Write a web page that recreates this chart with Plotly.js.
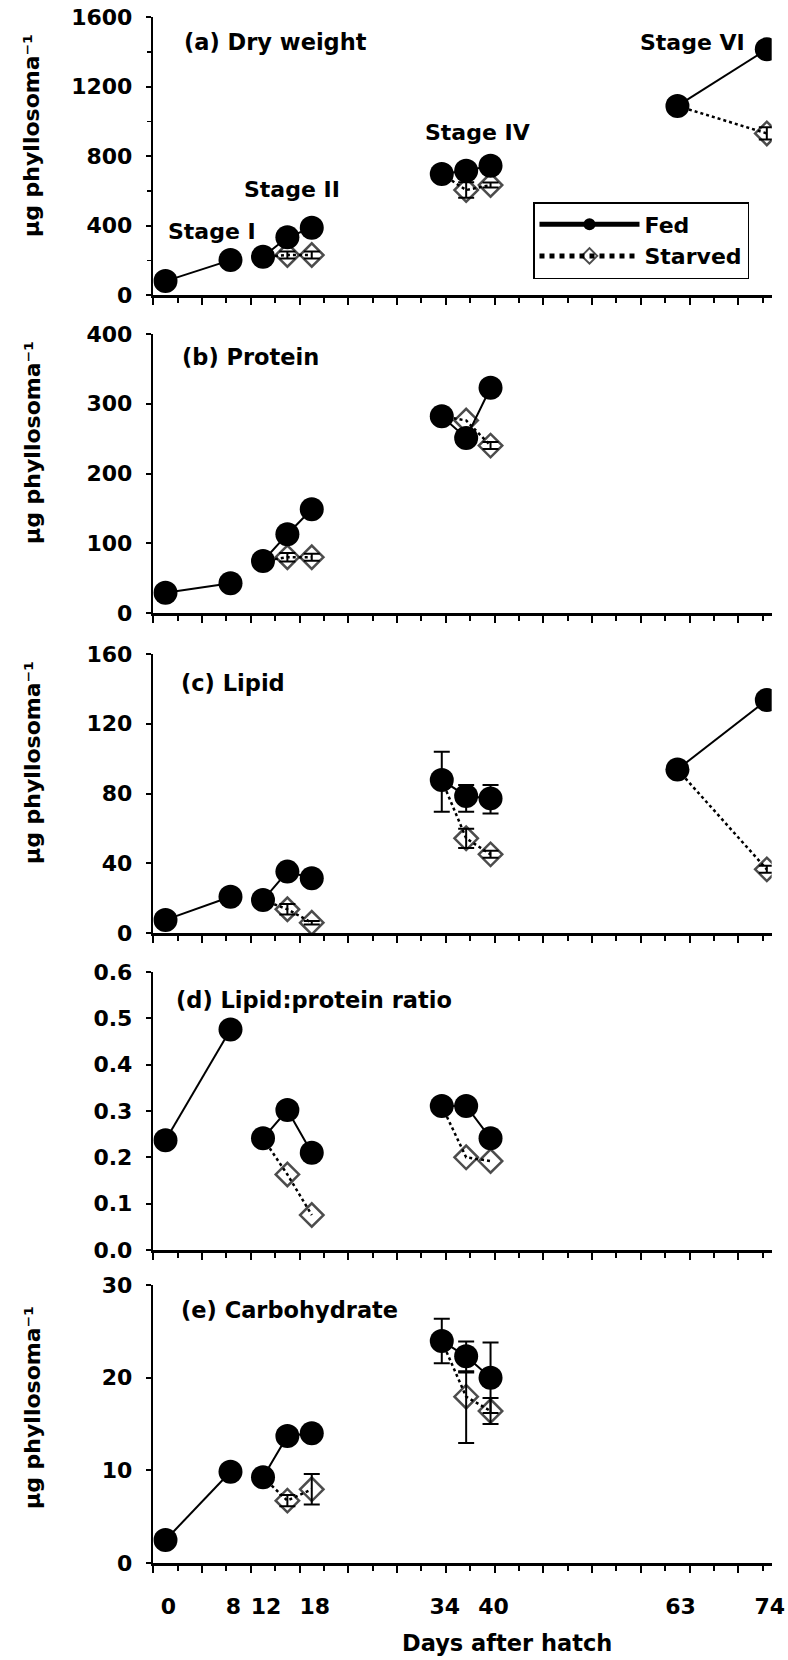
<!DOCTYPE html>
<html><head><meta charset="utf-8">
<script src="https://cdn.plot.ly/plotly-3.0.1.min.js"></script>
<style>html,body{margin:0;padding:0;background:#fff}#chart{width:788px;height:1660px}</style>
</head><body><div id="chart"></div>
<script>
// ---- DATA ----
const days  = [0, 8, 12, 15, 18, 34, 37, 40, 63, 74];
const stage = ['I','I','II','II','II','IV','IV','IV','VI','VI'];
const dayLabels = [0, 8, 12, 18, 34, 40, 63, 74];

// (a) Dry weight
const fedDry       = [80, 201, 220, 332, 387, 696, 715, 744, 1088, 1414];
const fedDryErr    = [null, null, null, null, null, null, null, null, null, null];
const starvedDry   = [null, null, null, 230, 230, null, 604, 633, null, 930];
const starvedDryErr= [null, null, null, 20, 20, null, 45, 15, null, 35];
// (b) Protein
const fedProt       = [29, 42.5, 74.6, 113, 148.7, 282, 251, 323, null, null];
const fedProtErr    = [null, null, null, null, null, null, null, null, null, null];
const starvedProt   = [null, null, null, 80, 80, null, 276, 240, null, null];
const starvedProtErr= [null, null, null, 6, 5, null, null, 5, null, null];
// (c) Lipid
const fedLip        = [7.5, 20.8, 18.9, 35.2, 31.4, 87.7, 78.6, 77.2, 93.8, 133.6];
const fedLipErrP    = [null, null, null, null, null, 16.3, 6.3, 7.7, null, null];
const fedLipErrM    = [null, null, null, null, null, 18.1, 9.0, 8.6, null, null];
const starvedLip    = [null, null, null, 13.6, 5.9, null, 54.3, 45.1, null, 36.5];
const starvedLipErr = [null, null, null, 3, 1, null, 5.5, 2, null, 2];
// (d) Lipid:protein ratio
const fedRatio      = [0.237, 0.476, 0.241, 0.302, 0.210, 0.311, 0.311, 0.241, null, null];
const starvedRatio  = [null, null, null, 0.163, 0.0755, null, 0.200, 0.192, null, null];
// (e) Carbohydrate
const fedCarb       = [2.48, 9.85, 9.25, 13.7, 14.0, 23.96, 22.3, 20.0, null, null];
const fedCarbErr    = [null, null, null, null, null, 2.4, 1.6, 3.8, null, null];
const starvedCarb   = [null, null, null, 6.73, 7.95, null, 17.95, 16.4, null, null];
const starvedCarbErrP = [null, null, null, 0.6, 1.65, null, 2.6, 1.4, null, null];
const starvedCarbErrM = [null, null, null, 0.6, 1.65, null, 5.0, 1.4, null, null];

// ---- helpers ----
const FAM = 'DejaVu Sans';
const fnt = s => ({family: FAM, size: s, color: '#000', weight: 'bold'});
const toNum = v => (v == null ? NaN : v);

// fed: break line between stages
function fedSeries(vals, errP, errM) {
  const X = [], Y = [], EP = [], EM = []; let prev = null;
  days.forEach((d, i) => {
    if (vals[i] == null) return;
    if (prev !== null && stage[i] !== prev) { X.push(null); Y.push(null); EP.push(NaN); EM.push(NaN); }
    X.push(d); Y.push(vals[i]);
    EP.push(toNum(errP ? errP[i] : null)); EM.push(toNum(errM ? errM[i] : (errP ? errP[i] : null)));
    prev = stage[i];
  });
  return {X, Y, EP, EM};
}
// starved: branch from the first fed point of the same stage
function starvedSeries(fedVals, vals, errP, errM) {
  const X = [], Y = [], EP = [], EM = [], S = [];
  const stagesDone = {};
  days.forEach((d, i) => {
    if (vals[i] == null) return;
    const st = stage[i];
    if (!stagesDone[st]) {
      if (X.length) { X.push(null); Y.push(null); EP.push(NaN); EM.push(NaN); S.push(0); }
      const j = stage.indexOf(st);
      X.push(days[j]); Y.push(fedVals[j]); EP.push(NaN); EM.push(NaN); S.push(0);
      stagesDone[st] = true;
    }
    X.push(d); Y.push(vals[i]);
    EP.push(toNum(errP ? errP[i] : null)); EM.push(toNum(errM ? errM[i] : (errP ? errP[i] : null)));
    S.push(18);
  });
  return {X, Y, EP, EM, S};
}

const panels = [
  {fed: fedDry,   fedEP: fedDryErr,  fedEM: null,       st: starvedDry,   stEP: starvedDryErr,  stEM: null},
  {fed: fedProt,  fedEP: fedProtErr, fedEM: null,       st: starvedProt,  stEP: starvedProtErr, stEM: null},
  {fed: fedLip,   fedEP: fedLipErrP, fedEM: fedLipErrM, st: starvedLip,   stEP: starvedLipErr,  stEM: null},
  {fed: fedRatio, fedEP: null,       fedEM: null,       st: starvedRatio, stEP: null,           stEM: null},
  {fed: fedCarb,  fedEP: fedCarbErr, fedEM: null,       st: starvedCarb,  stEP: starvedCarbErrP, stEM: starvedCarbErrM}
];

const traces = [];
panels.forEach((p, k) => {
  const n = k + 1;
  const xa = 'x' + (n === 1 ? '' : n), ya = 'y' + (n === 1 ? '' : n);
  const s = starvedSeries(p.fed, p.st, p.stEP, p.stEM);
  traces.push({
    type: 'scatter', mode: 'lines+markers', name: 'Starved', legendrank: 2,
    showlegend: k === 0, legendgroup: 'starved',
    x: s.X, y: s.Y, xaxis: xa, yaxis: ya, connectgaps: false,
    line: {color: '#000', width: 2.5, dash: 'dot'},
    marker: {symbol: 'diamond-open', size: s.S, color: '#000', line: {width: 2.5, color: '#000'}},
    error_y: {type: 'data', symmetric: false, array: s.EP, arrayminus: s.EM, color: '#000', thickness: 2, width: 8},
    hoverinfo: 'x+y'
  });
  const f = fedSeries(p.fed, p.fedEP, p.fedEM);
  traces.push({
    type: 'scatter', mode: 'lines+markers', name: 'Fed', legendrank: 1,
    showlegend: k === 0, legendgroup: 'fed',
    x: f.X, y: f.Y, xaxis: (n === 5 ? 'x6' : xa), yaxis: ya, connectgaps: false,
    line: {color: '#000', width: 2},
    marker: {symbol: 'circle', size: 24, color: '#000'},
    error_y: {type: 'data', symmetric: false, array: f.EP, arrayminus: f.EM, color: '#000', thickness: 2, width: 8},
    hoverinfo: 'x+y'
  });
});

// ---- LAYOUT ----
const W = 788, H = 1660;
const xDom = [153.3 / W, 771.7 / W];
const yPix = [[17, 295], [334, 613], [654, 933], [972, 1250], [1285, 1563]];
const yDom = yPix.map(([t, b]) => [1 - b / H, 1 - t / H]);
const XR = [-1.5, 74.6];

function xAxis(n) {
  return {
    domain: xDom, range: XR, anchor: 'y' + (n === 1 ? '' : n),
    showline: true, linecolor: '#000', linewidth: 2.5,
    ticks: 'outside', ticklen: 7, tickwidth: 2, tickcolor: '#000',
    tickmode: 'linear', tick0: -1.5, dtick: 6, showticklabels: false,
    minor: {ticks: 'outside', ticklen: 5, tickwidth: 2, tickcolor: '#000', tickmode: 'linear', tick0: -1.5, dtick: 3, showgrid: false},
    showgrid: false, zeroline: false, fixedrange: true
  };
}
const yRanges = [[0, 1600, 400], [0, 400, 100], [0, 160, 40], [0, 0.6, 0.1], [0, 30, 10]];
function yAxis(n) {
  const [lo, hi, dt] = yRanges[n - 1];
  const ax = {
    domain: yDom[n - 1], range: [lo, hi], anchor: 'x' + (n === 1 ? '' : n),
    showline: true, linecolor: '#000', linewidth: 2.5,
    ticks: 'outside', ticklen: 5, tickwidth: 2, tickcolor: '#000',
    tickmode: 'linear', tick0: 0, dtick: dt, tickfont: fnt(22), ticklabelstandoff: 9,
    showgrid: false, zeroline: false, fixedrange: true
  };
  if (n === 4) ax.tickformat = '.1f';
  if (n === 1) ax.minor = {ticks: 'outside', ticklen: 4, tickwidth: 1.5, tickcolor: '#000', tickmode: 'linear', tick0: 200, dtick: 400, showgrid: false};
  return ax;
}

const layout = {
  width: W, height: H, margin: {l: 0, r: 0, t: 0, b: 0},
  paper_bgcolor: '#fff', plot_bgcolor: 'rgba(0,0,0,0)',
  font: fnt(22), showlegend: true,
  legend: {
    x: 533 / W, y: 1 - 202 / H, xanchor: 'left', yanchor: 'top',
    bgcolor: '#fff', bordercolor: '#000', borderwidth: 1.5,
    font: fnt(22), itemwidth: 100, itemsizing: 'constant', tracegroupgap: 0
  },
  annotations: []
};
for (let n = 1; n <= 5; n++) {
  layout['xaxis' + (n === 1 ? '' : n)] = xAxis(n);
  layout['yaxis' + (n === 1 ? '' : n)] = yAxis(n);
}
// tick labels for days (bottom panel)
layout.xaxis6 = {
  overlaying: 'x5', anchor: 'y5', side: 'bottom', domain: xDom, range: XR,
  showline: false, ticks: '', tickmode: 'array', tickvals: dayLabels, ticktext: dayLabels.map(String),
  tickfont: fnt(22), ticklabelstandoff: 28, ticklabelshift: 3, showgrid: false, zeroline: false, fixedrange: true
};

const ann = (text, xp, yp, size, opts) => Object.assign({
  text, xref: 'paper', yref: 'paper', x: xp / W, y: 1 - yp / H,
  xanchor: 'left', yanchor: 'middle', showarrow: false, font: fnt(size)
}, opts || {});

const panelLabels = ['(a) Dry weight', '(b) Protein', '(c) Lipid', '(d) Lipid:protein ratio', '(e) Carbohydrate'];
const panelLabelPos = [[182, 42], [180, 357], [179, 683], [174, 1000], [179, 1310]];
panelLabels.forEach((t, i) => layout.annotations.push(ann(t, panelLabelPos[i][0], panelLabelPos[i][1], 22.5)));

const yTitle = 'µg phyllosoma\u207B\u00B9';
const yTitleY = [136, 443, 763, null, 1408];
yTitleY.forEach(yp => { if (yp != null) layout.annotations.push(ann(yTitle, 32, yp, 22, {textangle: -90, xanchor: 'center'})); });

const stageLabels = ['Stage I', 'Stage II', 'Stage IV', 'Stage VI'];
const stagePos = [[212, 232], [291.5, 190], [477.5, 132], [692, 43]];
stageLabels.forEach((t, i) => layout.annotations.push(ann(t, stagePos[i][0], stagePos[i][1], 22, {xanchor: 'center'})));

layout.annotations.push(ann('Days after hatch', 507, 1643, 22.5, {xanchor: 'center'}));

Plotly.newPlot('chart', traces, layout, {staticPlot: true, displayModeBar: false});
</script>
</body></html>
